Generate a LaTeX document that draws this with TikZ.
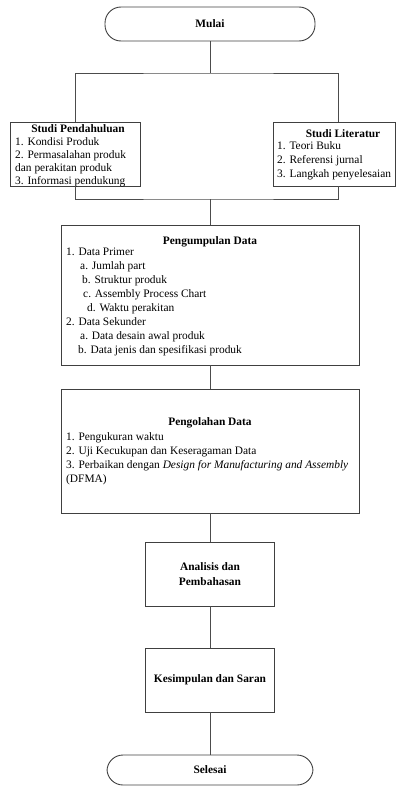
\documentclass[tikz,border=0pt]{standalone}
\usepackage{fontspec}
\setmainfont{Liberation Serif}
\begin{document}
\begin{tikzpicture}[x=1pt, y=-1pt, font=\fontsize{11.4}{14}\selectfont,
  kotak/.style={draw=black!75, line width=0.9pt, inner sep=0pt},
  terminal/.style={kotak, rounded corners=16pt},
  garis/.style={draw=black!70, line width=0.9pt},
  isi/.style={inner sep=0pt, anchor=north west, align=left}]
  \useasboundingbox (0,0) rectangle (396,787);
  % terminal awal
  \node[terminal, minimum width=210pt, minimum height=34pt] (mulai) at (210,24) {\textbf{Mulai}};
  % studi pendahuluan dan studi literatur
  \node[kotak, minimum width=130pt, minimum height=64pt] (pendahuluan) at (75,154) {};
  \node (judulA) at (78,129) {\textbf{Studi Pendahuluan}};
  \node[isi, font=\fontsize{11.4}{13}\selectfont] (isiA) at (15,137)
    {1. Kondisi Produk\\2. Permasalahan produk\\dan perakitan produk\\3. Informasi pendukung};
  \node[kotak, minimum width=122pt, minimum height=64pt] (literatur) at (334,154) {};
  \node (judulB) at (343,134) {\textbf{Studi Literatur}};
  \node[isi] (isiB) at (277,141)
    {1. Teori Buku\\2. Referensi jurnal\\3. Langkah penyelesaian};
  % pengumpulan data
  \node[kotak, minimum width=298pt, minimum height=140pt] (kumpul) at (210,295) {};
  \node (judulC) at (210,242) {\textbf{Pengumpulan Data}};
  \node[isi] (isiC) at (66,248)
    {1. Data Primer\\
     \hspace*{14pt}a. Jumlah part\\
     \hspace*{16pt}b. Struktur produk\\
     \hspace*{17pt}c. Assembly Process Chart\\
     \hspace*{21pt}d. Waktu perakitan\\
     2. Data Sekunder\\
     \hspace*{14pt}a. Data desain awal produk\\
     \hspace*{12pt}b. Data jenis dan spesifikasi produk};
  % pengolahan data
  \node[kotak, minimum width=298pt, minimum height=124pt] (olah) at (210,451) {};
  \node (judulD) at (210,423) {\textbf{Pengolahan Data}};
  \node[isi] (isiD) at (66,432)
    {1. Pengukuran waktu\\2. Uji Kecukupan dan Keseragaman Data\\
     3. Perbaikan dengan \textit{Design for Manufacturing and Assembly}\\(DFMA)};
  % analisis, kesimpulan, selesai
  \node[kotak, minimum width=129pt, minimum height=64pt, align=center,
        font=\fontsize{11.4}{15}\selectfont\bfseries] (analisis) at (210,574)
    {Analisis dan\\Pembahasan};
  \node[kotak, minimum width=129pt, minimum height=64pt] (simpul) at (210,680)
    {\textbf{Kesimpulan dan Saran}};
  \node[terminal, minimum width=206pt, minimum height=30pt] (selesai) at (210,770) {\textbf{Selesai}};
  % garis penghubung
  \coordinate (cabang) at (210,73);
  \coordinate (gabung) at (210,199);
  \draw[garis] (mulai) -- (cabang);
  \draw[garis] (pendahuluan.north) |- (cabang) -| ([xshift=4pt]literatur.north);
  \draw[garis] (pendahuluan.south) |- (gabung) -| ([xshift=4pt]literatur.south);
  \draw[garis] (gabung) -- (kumpul);
  \draw[garis] (kumpul) -- (olah);
  \draw[garis] (olah) -- (analisis);
  \draw[garis] (analisis) -- (simpul);
  \draw[garis] (simpul) -- (selesai);
\end{tikzpicture}
\end{document}
